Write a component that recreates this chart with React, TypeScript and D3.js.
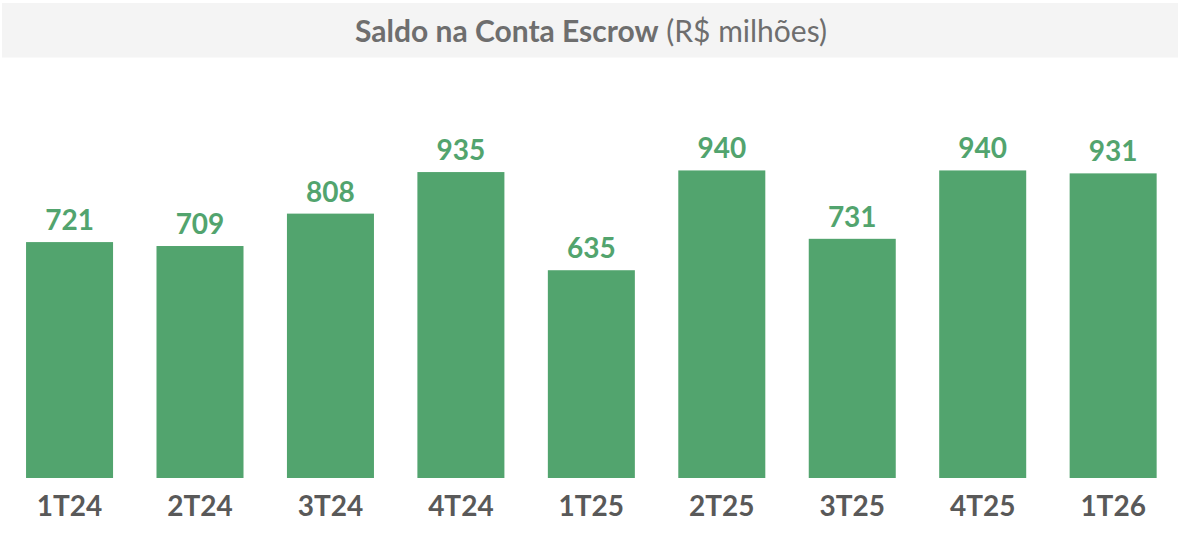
import React from "react";
import * as d3 from "d3";

const categories = ["1T24", "2T24", "3T24", "4T24", "1T25", "2T25", "3T25", "4T25", "1T26"];
const values = [721, 709, 808, 935, 635, 940, 731, 940, 931];
const titleBold = "Saldo na Conta Escrow";
const titleRegular = " (R$ milhões)";

const W = 1178;
const H = 534;
const GREEN = "#52A46E";
const FONT = "Lato, 'Open Sans', sans-serif";

export default function App() {
  const x = d3.scaleBand<string>().domain(categories).range([4.3, 1178.4]).paddingInner(0.333).paddingOuter(0.1667);
  const y = d3.scaleLinear().domain([0, 1000]).range([478, 150.8]);
  return (
    <svg width={W} height={H} style={{ position: "absolute", left: 0, top: 0, background: "#fff" }}>
      <rect x={2} y={3} width={1176} height={54.5} fill="#F4F4F4" />
      <text x={591} y={42} textAnchor="middle" fontFamily={FONT} fontSize={30} fill="#6E6E6E">
        <tspan fontWeight="bold">{titleBold}</tspan>
        <tspan>{titleRegular}</tspan>
      </text>
      {categories.map((c, i) => {
        const bx = x(c)!;
        const bw = x.bandwidth();
        return (
          <g key={c}>
            <rect x={bx} y={y(values[i])} width={bw} height={y(0) - y(values[i])} fill={GREEN} />
            <text x={bx + bw / 2} y={y(values[i]) - 12} textAnchor="middle" fontFamily={FONT} fontWeight="bold" fontSize={28} fill={GREEN}>
              {d3.format("d")(values[i])}
            </text>
            <text x={bx + bw / 2} y={516} textAnchor="middle" fontFamily={FONT} fontWeight="bold" fontSize={28} fill="#595959">
              {c}
            </text>
          </g>
        );
      })}
    </svg>
  );
}
